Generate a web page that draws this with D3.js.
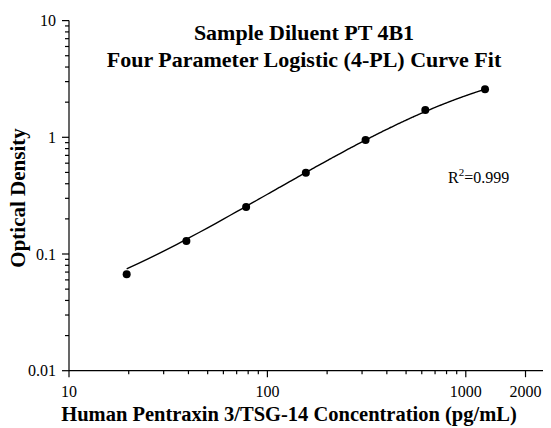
<!DOCTYPE html>
<html><head><meta charset="utf-8">
<script src="https://cdn.jsdelivr.net/npm/d3@7"></script>
<style>body{margin:0;background:#fff}svg{display:block}text{font-family:"Liberation Serif","Times New Roman",serif;fill:#000}</style>
</head><body><svg id="c" width="551" height="428"></svg>
<script>
const concentrations = [19.53, 39.06, 78.13, 156.25, 312.5, 625, 1250];
const odValues = [0.067, 0.129, 0.253, 0.498, 0.948, 1.71, 2.58];
// 4-PL fit parameters: a (min), b (slope), c (EC50), d (max)
const fitParams = [0.022, 1.105, 1189, 5.0];
const xTickLabels = [10, 100, 1000, 2000];
const yTickLabels = [0.01, 0.1, 1, 10];
const titleLines = ["Sample Diluent PT 4B1", "Four Parameter Logistic (4-PL) Curve Fit"];
const xTitle = "Human Pentraxin 3/TSG-14 Concentration (pg/mL)";
const yTitle = "Optical Density";

const svg = d3.select("#c");
const x = d3.scaleLog().domain([10, 2450]).range([69, 543]);
const y = d3.scaleLog().domain([0.01, 10]).range([370.7, 20.6]);

const g = svg.append("g").attr("stroke", "#000").attr("stroke-width", 1.2);
g.append("line").attr("x1", x.range()[0]).attr("x2", x.range()[1]).attr("y1", y(0.01)).attr("y2", y(0.01));
g.append("line").attr("x1", x(10)).attr("x2", x(10)).attr("y1", y(0.01)).attr("y2", y(10));

const xMinor = [];
for (let dec = 10; dec <= 1000; dec *= 10) for (let k = 2; k <= 9; k++) { const v = k * dec; if (v <= 2450 && !xTickLabels.includes(v)) xMinor.push(v); }
xMinor.forEach(v => g.append("line").attr("x1", x(v)).attr("x2", x(v)).attr("y1", y(0.01)).attr("y2", y(0.01) + 3.5));
xTickLabels.forEach(v => {
  g.append("line").attr("x1", x(v)).attr("x2", x(v)).attr("y1", y(0.01)).attr("y2", y(0.01) + 6.5);
  svg.append("text").attr("x", x(v)).attr("y", 397).attr("text-anchor", "middle").attr("font-size", 16).text(v);
});
const yMinor = [];
for (let dec = 0.01; dec < 9; dec *= 10) for (let k = 2; k <= 9; k++) yMinor.push(k * dec);
yMinor.forEach(v => g.append("line").attr("x1", x(10) - 4).attr("x2", x(10)).attr("y1", y(v)).attr("y2", y(v)));
yTickLabels.forEach(v => {
  g.append("line").attr("x1", x(10) - 7).attr("x2", x(10)).attr("y1", y(v)).attr("y2", y(v));
  svg.append("text").attr("x", 56).attr("y", y(v) + 5.5).attr("text-anchor", "end").attr("font-size", 16).text(v);
});

const [a, b, c, d] = fitParams;
const f = v => d + (a - d) / (1 + Math.pow(v / c, b));
const lx = d3.scaleLog().domain([concentrations[0], concentrations[concentrations.length - 1]]);
const curvePts = lx.ticks(200).concat([concentrations[0], concentrations[concentrations.length - 1]]).sort((p, q) => p - q)
  .filter(v => v >= concentrations[0] && v <= concentrations[concentrations.length - 1]);
svg.append("path").datum(curvePts)
  .attr("d", d3.line().x(v => x(v)).y(v => y(f(v))).curve(d3.curveMonotoneX))
  .attr("fill", "none").attr("stroke", "#000").attr("stroke-width", 1.4);

svg.selectAll("circle.pt").data(concentrations).join("circle")
  .attr("cx", v => x(v)).attr("cy", (v, i) => y(odValues[i])).attr("r", 4).attr("fill", "#000");

titleLines.forEach((t, i) => svg.append("text").attr("x", 304).attr("y", 39.5 + i * 27.3)
  .attr("text-anchor", "middle").attr("font-size", 22).attr("font-weight", "bold").text(t));
svg.append("text").attr("x", 289).attr("y", 421).attr("text-anchor", "middle")
  .attr("font-size", 20.5).attr("font-weight", "bold").text(xTitle);
svg.append("text").attr("transform", "translate(25,198) rotate(-90)").attr("text-anchor", "middle")
  .attr("font-size", 21).attr("font-weight", "bold").text(yTitle);

const r = svg.append("text").attr("x", 448).attr("y", 183).attr("font-size", 16);
r.append("tspan").text("R");
r.append("tspan").attr("font-size", 11).attr("dy", -7).text("2");
r.append("tspan").attr("dy", 7).text("=0.999");
</script></body></html>
